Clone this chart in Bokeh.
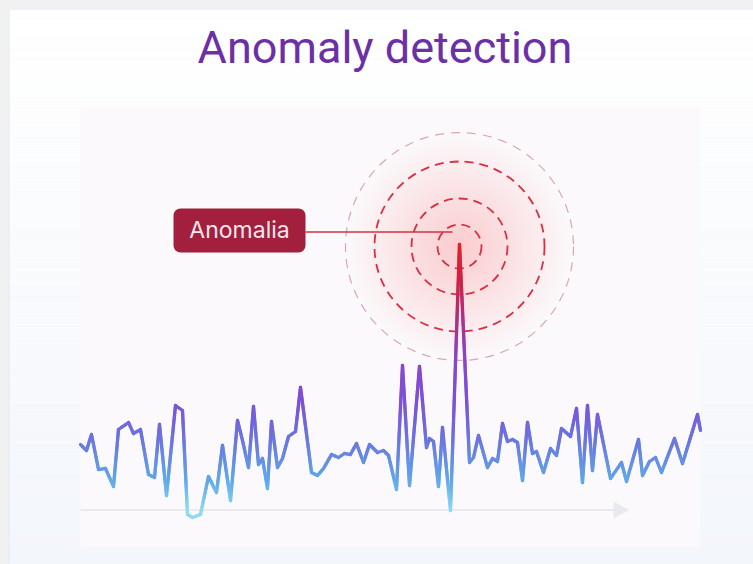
import math
from bokeh.plotting import figure
from bokeh.models import Range1d
from bokeh.embed import file_html
from bokeh.resources import INLINE
from bokeh.core.properties import value

# ---------------- data ----------------
title_text = "Anomaly detection"
anomaly_label = "Anomalia"

time = [0.0, 1.2, 2.2, 3.6, 5.0, 6.6, 7.6, 9.6, 10.6, 12.0, 13.6, 14.8, 15.8, 17.2,
        19.0, 20.4, 21.4, 22.4, 24.0, 25.6, 27.2, 28.4, 30.0, 31.4, 32.4, 33.6,
        34.6, 35.6, 36.4, 37.4, 38.2, 39.4, 40.4, 41.6, 43.0, 44.0, 46.2, 47.4,
        48.6, 50.2, 51.6, 52.8, 54.0, 55.2, 56.6, 57.8, 59.4, 60.6, 61.6, 63.2,
        64.4, 65.8, 67.8, 69.2, 69.8, 70.6, 71.6, 72.4, 74.0, 75.8, 77.8, 78.6,
        79.6, 81.4, 82.4, 83.4, 84.4, 85.4, 86.4, 87.4, 88.4, 89.4, 90.4, 91.2,
        92.6, 94.0, 95.2, 96.2, 98.0, 99.2, 100.4, 101.4, 102.4, 103.4, 106.0,
        108.2, 109.2, 111.6, 112.4, 113.8, 115.0, 116.2, 118.8, 120.4, 123.4, 124.0]
level = [6.6, 6.0, 7.6, 4.1, 4.2, 2.4, 8.1, 8.8, 7.7, 8.1, 3.6, 3.3, 8.6, 1.5,
         10.5, 10.0, -0.4, -0.7, -0.4, 3.4, 1.8, 6.5, 1.0, 9.0, 7.0, 4.3,
         10.4, 4.6, 5.2, 2.2, 8.9, 4.3, 5.2, 7.4, 7.9, 12.3, 3.8, 3.5,
         4.2, 5.6, 5.3, 5.7, 5.6, 6.7, 4.8, 6.6, 5.8, 6.0, 5.5, 2.1,
         14.5, 2.5, 14.4, 6.3, 7.2, 6.9, 2.4, 8.3, 0.0, 26.6, 4.8, 5.3,
         7.5, 4.3, 5.2, 4.9, 8.7, 6.9, 7.1, 6.8, 3.0, 8.8, 5.7, 5.9,
         3.8, 6.2, 5.5, 8.2, 7.4, 10.2, 2.8, 10.5, 4.0, 9.6, 3.2,
         4.8, 2.9, 7.1, 3.5, 4.9, 5.3, 3.8, 7.2, 4.7, 9.6, 8.0]

# colour stops of the line, by level
grad_levels = [0, 3, 7, 11, 15, 19, 23, 27]
grad_colors = ["#8fdcf0", "#60a8ea", "#6a76e0", "#7c50d8", "#8c45cc", "#ad3182", "#cf2245", "#e41f2c"]

# ---------------- helpers ----------------
W, H = 753, 564
def px(x):  # page pixel x -> time units
    return (x - 80) / 5.0
def py(y):  # page pixel y -> level units
    return (510 - y) / 10.0

def hex2rgb(h):
    h = h.lstrip("#")
    return tuple(int(h[i:i + 2], 16) for i in (0, 2, 4))

def rgb2hex(c):
    return "#%02x%02x%02x" % tuple(int(round(v)) for v in c)

def mix(a, b, f):
    ca, cb = hex2rgb(a), hex2rgb(b)
    return rgb2hex([ca[i] + (cb[i] - ca[i]) * f for i in range(3)])

def level_color(v):
    if v <= grad_levels[0]:
        return grad_colors[0]
    for i in range(len(grad_levels) - 1):
        if v <= grad_levels[i + 1]:
            f = (v - grad_levels[i]) / (grad_levels[i + 1] - grad_levels[i])
            return mix(grad_colors[i], grad_colors[i + 1], f)
    return grad_colors[-1]

p = figure(width=W, height=H, output_backend="svg", toolbar_location=None,
           x_range=Range1d(px(0), px(W)), y_range=Range1d(py(H), py(0)),
           min_border=0, min_border_left=0, min_border_right=0,
           min_border_top=0, min_border_bottom=0)
p.axis.visible = False
p.grid.visible = False
p.outline_line_color = None
p.background_fill_color = "#f1f1f1"
p.border_fill_color = "#f1f1f1"

# card vertical gradient
nb = 56
tops, bots, cols = [], [], []
for i in range(nb):
    y0 = 8 + (H - 8) * i / nb
    y1 = 8 + (H - 8) * (i + 1) / nb
    tops.append(py(y0))
    bots.append(py(y1))
    cols.append(mix("#ffffff", "#f3f6fb", (i + 0.5) / nb))
p.quad(left=px(8), right=px(W), top=tops, bottom=bots, fill_color=cols, line_color=None)

# card border (top and left)
p.segment(x0=[px(8.5), px(8.5)], y0=[py(8.5), py(8.5)], x1=[px(W), px(8.5)], y1=[py(8.5), py(H)],
          line_color="#dce8f4", line_width=1)

# inner panel
p.quad(left=px(80), right=px(700), top=py(108), bottom=py(547), fill_color="#fbf9fb", line_color=None)

# baseline arrow
p.segment(x0=[px(80)], y0=[py(509.5)], x1=[px(614)], y1=[py(509.5)], line_color="#e9e9ef", line_width=2)
p.patch(x=[px(613), px(629), px(613)], y=[py(501), py(509.5), py(518)], fill_color="#e9e9ef", line_color=None)

# anomaly location = maximum
imax = max(range(len(level)), key=lambda i: level[i])
cx, cy = time[imax], level[imax] - 0.2

# glow
N = 45
sizes = [2 * 112 * (1 - k / N) for k in range(N)]
p.scatter(x=[cx] * N, y=[cy] * N, size=sizes, marker="circle", fill_color="#e8303f",
          fill_alpha=0.005, line_color=None)

# rings
p.scatter(x=[cx], y=[cy], size=2 * 114, marker="circle", fill_color=None,
          line_color="#dba6b2", line_width=1.2, line_dash="9 7")
for r in (85, 48, 22):
    p.scatter(x=[cx], y=[cy], size=2 * r, marker="circle", fill_color=None,
              line_color="#da2e42", line_width=1.8, line_dash="9 6")

# connector
p.segment(x0=[px(305)], y0=[py(231.5)], x1=[px(452)], y1=[py(231.5)], line_color="#d63042", line_width=1.5)

# label box
p.rect(x=[px(239)], y=[py(230)], width=132, height=44, width_units="screen", height_units="screen",
       fill_color="#a21f3d", line_color=None, border_radius=7)
p.text(x=[px(239)], y=[py(229)], text=[anomaly_label], text_align="center", text_baseline="alphabetic",
       text_font=value("Inter"), text_font_size="23px", text_color="#f8e6eb")

# signal line, coloured by level
x0s, y0s, x1s, y1s, segc = [], [], [], [], []
for i in range(len(time) - 1):
    a, b = level[i], level[i + 1]
    n = max(1, int(math.ceil(abs(b - a) / 0.25)))
    for k in range(n):
        f0, f1 = k / n, (k + 1) / n
        xa = time[i] + (time[i + 1] - time[i]) * f0
        xb = time[i] + (time[i + 1] - time[i]) * f1
        ya = a + (b - a) * f0
        yb = a + (b - a) * f1
        x0s.append(xa); y0s.append(ya); x1s.append(xb); y1s.append(yb)
        segc.append(level_color((ya + yb) / 2))
p.segment(x0=x0s, y0=y0s, x1=x1s, y1=y1s, line_color=segc, line_width=3.3, line_cap="round")

# title
p.text(x=[px(384.5)], y=[py(47)], text=[title_text], text_align="center", text_baseline="alphabetic",
       text_font=value("Roboto"), text_font_size="45px", text_color="#6c30a6")

html = file_html(p, INLINE)
html = html.replace("</head>", "<style>html,body{margin:0;padding:0;background:#f1f1f1;overflow:hidden}</style></head>", 1)
open("out.html", "w").write(html)
